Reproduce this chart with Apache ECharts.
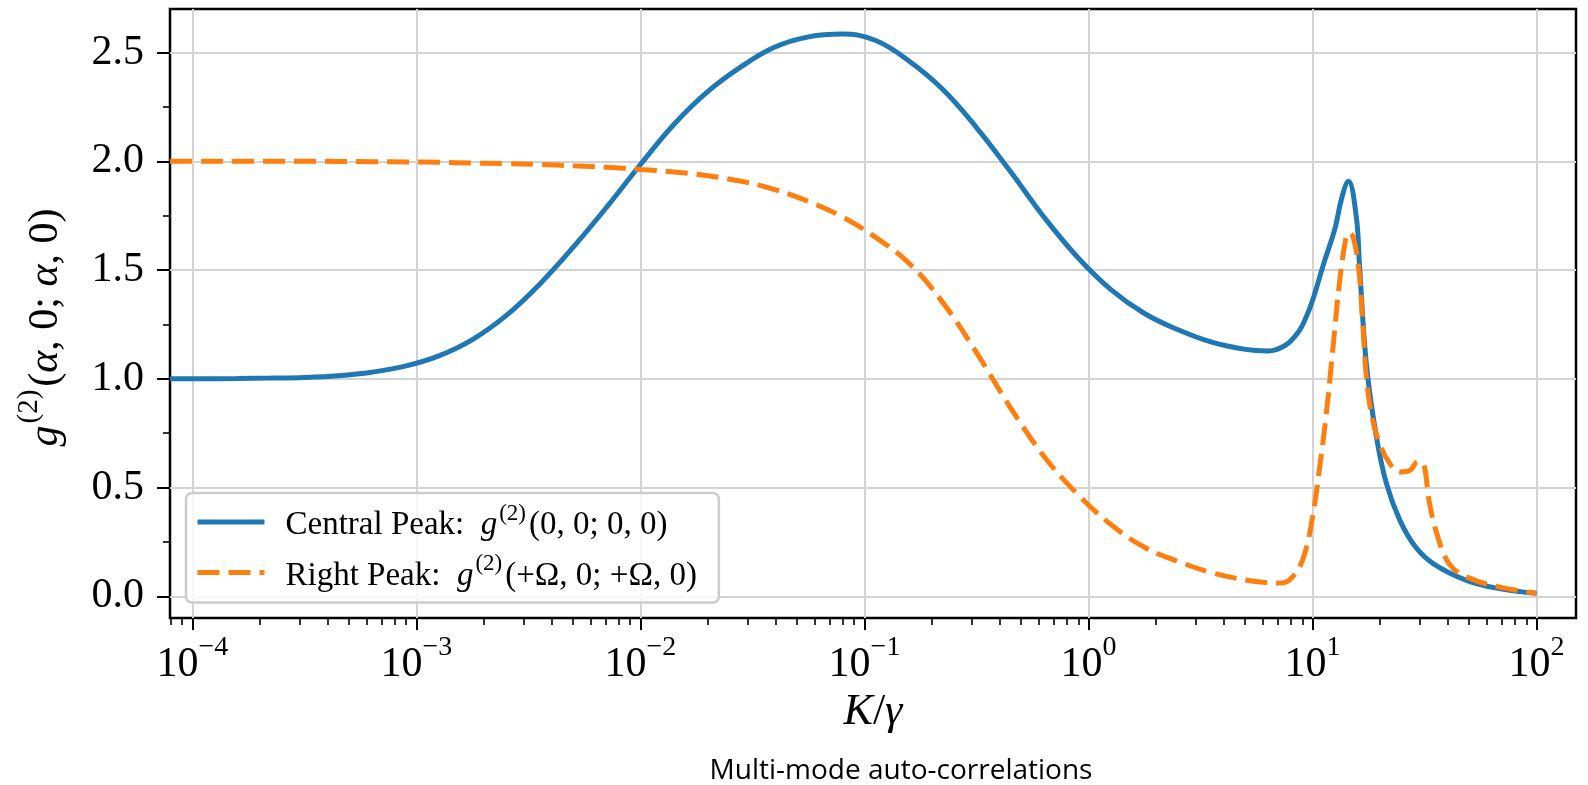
<!DOCTYPE html>
<html>
<head>
<meta charset="utf-8">
<title>Multi-mode auto-correlations</title>
<style>
    html, body { margin: 0; padding: 0; background: #fff; }
    #container { width: 1588px; height: 785px; }
</style>
</head>
<body>
<div id="container"></div>
<script src="https://cdn.jsdelivr.net/npm/echarts@6/dist/echarts.min.js"></script>
<script>
    // x values are log10(K/gamma)
    var centralX = [-4.1, -3.95, -3.8, -3.65, -3.5, -3.35, -3.2, -3.05, -2.9, -2.75,
        -2.6, -2.45, -2.3, -2.15, -2.0, -1.85, -1.7, -1.55, -1.4, -1.25,
        -1.1, -0.95, -0.8, -0.65, -0.5, -0.35, -0.2, -0.05, 0.1, 0.25,
        0.4, 0.55, 0.7, 0.8, 0.88, 0.94, 0.97, 1.0, 1.05, 1.1,
        1.13, 1.16, 1.195, 1.21, 1.24, 1.285, 1.33, 1.39, 1.46, 1.54,
        1.69, 1.84, 2.0];
    var centralY = [1.0, 1.0, 1.001, 1.003, 1.006, 1.014, 1.03, 1.058, 1.105, 1.18,
        1.29, 1.435, 1.605, 1.79, 1.985, 2.17, 2.32, 2.435, 2.525, 2.572,
        2.585, 2.555, 2.46, 2.33, 2.155, 1.955, 1.745, 1.56, 1.41, 1.30,
        1.225, 1.168, 1.135, 1.128, 1.155, 1.22, 1.28, 1.36, 1.53, 1.69,
        1.83, 1.908, 1.747, 1.516, 1.07, 0.733, 0.518, 0.349, 0.226, 0.149,
        0.072, 0.034, 0.014];

    var rightX = [-4.1, -3.95, -3.8, -3.65, -3.5, -3.35, -3.2, -3.05, -2.9, -2.75,
        -2.6, -2.45, -2.3, -2.15, -2.0, -1.85, -1.7, -1.55, -1.4, -1.25,
        -1.1, -0.95, -0.8, -0.65, -0.5, -0.35, -0.2, -0.05, 0.1, 0.25,
        0.4, 0.55, 0.7, 0.8, 0.86, 0.91, 0.96, 1.0, 1.03, 1.06,
        1.09, 1.12, 1.145, 1.16, 1.18, 1.205, 1.225, 1.24, 1.265, 1.3,
        1.345, 1.39, 1.435, 1.47, 1.495, 1.52, 1.555, 1.61, 1.69, 1.84,
        2.0];
    var rightY = [2.0, 2.0, 2.0, 2.0, 2.0, 1.999, 1.998, 1.997, 1.995, 1.992,
        1.989, 1.985, 1.979, 1.972, 1.962, 1.951, 1.933, 1.908, 1.87, 1.815,
        1.745, 1.65, 1.53, 1.35, 1.12, 0.87, 0.645, 0.47, 0.33, 0.225,
        0.16, 0.108, 0.075, 0.063, 0.061, 0.088, 0.18, 0.364, 0.58, 0.825,
        1.13, 1.44, 1.624, 1.67, 1.654, 1.516, 1.24, 1.01, 0.825, 0.70,
        0.61, 0.571, 0.579, 0.618, 0.61, 0.44, 0.287, 0.149, 0.088, 0.041,
        0.014];

    var xDecades = [-4, -3, -2, -1, 0, 1, 2];
    var minorMantissa = [2, 3, 4, 5, 6, 7, 8, 9];
    var yTicks = [0, 0.5, 1.0, 1.5, 2.0, 2.5];
    var yMinorTicks = [0.25, 0.75, 1.25, 1.75, 2.25];

    var xMin = -4.1, xMax = 2.176;
    var yMin = -0.1, yMax = 2.7;

    var serif = 'Liberation Serif';
    var blue = '#1f77b4';
    var orange = '#ff7f0e';

    // minor ticks of the log axis (2..9 x each decade)
    var xMinorTicks = [];
    for (var e = -5; e <= 2; e++) {
        for (var m = 0; m < minorMantissa.length; m++) {
            var v = e + Math.log10(minorMantissa[m]);
            if (v > xMin && v < xMax) xMinorTicks.push(v);
        }
    }

    function pairs(xs, ys) {
        return xs.map(function (x, i) { return [x, ys[i]]; });
    }

    var dom = document.getElementById('container');
    var myChart = echarts.init(dom, null, { renderer: 'canvas' });

    var option = {
        animation: false,
        backgroundColor: '#fff',
        grid: {
            left: 170, top: 9, width: 1406, height: 609,
            show: true, borderColor: '#000', borderWidth: 2.5,
            backgroundColor: 'transparent',
            containLabel: false, outerBoundsMode: 'none'
        },
        legend: {
            orient: 'vertical',
            left: 186, top: 493,
            padding: [9, 22, 10, 9],
            itemWidth: 67, itemHeight: 30, itemGap: 10.6,
            backgroundColor: 'rgba(255,255,255,0.8)',
            borderColor: '#cccccc', borderWidth: 2.5, borderRadius: 6,
            itemStyle: { opacity: 0 },
            lineStyle: { width: 5 },
            data: ['Central Peak', 'Right Peak'],
            formatter: function (name) {
                if (name === 'Central Peak') {
                    return '{b|Central Peak:  }{i|g}{s|(2)}{b|(0, 0; 0, 0)}';
                }
                return '{b|Right Peak:  }{i|g}{s|(2)}{b|(+Ω, 0; +Ω, 0)}';
            },
            textStyle: {
                fontFamily: serif, fontSize: 33, color: '#000',
                padding: [0, 0, 0, 16],
                rich: {
                    b: { fontFamily: serif, fontSize: 33, color: '#000', lineHeight: 40, verticalAlign: 'bottom' },
                    i: { fontFamily: serif, fontSize: 33, fontStyle: 'italic', color: '#000', lineHeight: 40, verticalAlign: 'bottom', padding: [0, 2, 0, 0] },
                    s: { fontFamily: serif, fontSize: 23, color: '#000', lineHeight: 24, verticalAlign: 'top', padding: [0, 3, 0, 0] }
                }
            }
        },
        graphic: [{
            type: 'text',
            x: 901, y: 771,
            style: {
                text: 'Multi-mode auto-correlations',
                font: '28px "Open Sans"',
                fill: '#000',
                textAlign: 'center',
                textVerticalAlign: 'middle'
            }
        }],
        xAxis: [{
            type: 'value',
            min: xMin, max: xMax,
            position: 'bottom',
            name: '{i|K}{b|/}{i|γ}',
            nameLocation: 'middle',
            nameGap: 62,
            nameTextStyle: {
                rich: {
                    i: { fontFamily: serif, fontSize: 44, fontStyle: 'italic', color: '#000' },
                    b: { fontFamily: serif, fontSize: 44, color: '#000' }
                }
            },
            axisLine: { show: false, onZero: false },
            axisTick: {
                show: true, length: 12, customValues: xDecades,
                lineStyle: { color: '#000', width: 2 }
            },
            axisLabel: {
                show: true, margin: 16, customValues: xDecades,
                formatter: function (v) {
                    var p = Math.round(v);
                    return '{b|10}{s|' + (p < 0 ? '\u2212' + (-p) : p) + '}';
                },
                rich: {
                    b: { fontFamily: serif, fontSize: 42, color: '#000', lineHeight: 52, verticalAlign: 'bottom' },
                    s: { fontFamily: serif, fontSize: 28, color: '#000', lineHeight: 28, verticalAlign: 'top' }
                }
            },
            splitLine: { show: true, lineStyle: { color: '#d3d3d3', width: 2 } }
        }, {
            type: 'value',
            min: xMin, max: xMax,
            position: 'bottom',
            axisLine: { show: false, onZero: false },
            axisTick: {
                show: true, length: 7, customValues: xMinorTicks,
                lineStyle: { color: '#000', width: 1.6 }
            },
            axisLabel: { show: false },
            splitLine: { show: false }
        }],
        yAxis: [{
            type: 'value',
            min: yMin, max: yMax,
            position: 'left',
            name: '{i|g}{s|(2)}{b|(}{i|α}{b|, 0; }{i|α}{b|, 0)}',
            nameLocation: 'middle',
            nameRotate: 90,
            nameGap: 103,
            nameTextStyle: {
                padding: [0, 28, 0, 0],
                rich: {
                    b: { fontFamily: serif, fontSize: 42, color: '#000', lineHeight: 52, verticalAlign: 'bottom' },
                    i: { fontFamily: serif, fontSize: 42, fontStyle: 'italic', color: '#000', lineHeight: 52, verticalAlign: 'bottom' },
                    s: { fontFamily: serif, fontSize: 29, color: '#000', lineHeight: 30, verticalAlign: 'top', padding: [0, 3, 0, 2] }
                }
            },
            axisLine: { show: false, onZero: false },
            axisTick: {
                show: true, length: 13, customValues: yTicks,
                lineStyle: { color: '#000', width: 2 }
            },
            axisLabel: {
                show: true, margin: 26, customValues: yTicks,
                fontFamily: serif, fontSize: 42, color: '#000',
                formatter: function (v) { return v.toFixed(1); }
            },
            splitLine: { show: true, lineStyle: { color: '#d3d3d3', width: 2 } }
        }, {
            type: 'value',
            min: yMin, max: yMax,
            position: 'left',
            axisLine: { show: false, onZero: false },
            axisTick: {
                show: true, length: 7, customValues: yMinorTicks,
                lineStyle: { color: '#000', width: 1.6 }
            },
            axisLabel: { show: false },
            splitLine: { show: false }
        }],
        series: [{
            name: 'Central Peak',
            type: 'line',
            xAxisIndex: 0, yAxisIndex: 0,
            data: pairs(centralX, centralY),
            symbol: 'none',
            smooth: 0.4,
            lineStyle: { color: blue, width: 5 },
            itemStyle: { color: blue },
            z: 3
        }, {
            name: 'Right Peak',
            type: 'line',
            xAxisIndex: 0, yAxisIndex: 0,
            data: pairs(rightX, rightY),
            symbol: 'none',
            smooth: 0.4,
            lineStyle: { color: orange, width: 5, type: [22, 9] },
            itemStyle: { color: orange },
            z: 4
        }]
    };

    myChart.setOption(option);
</script>
</body>
</html>
